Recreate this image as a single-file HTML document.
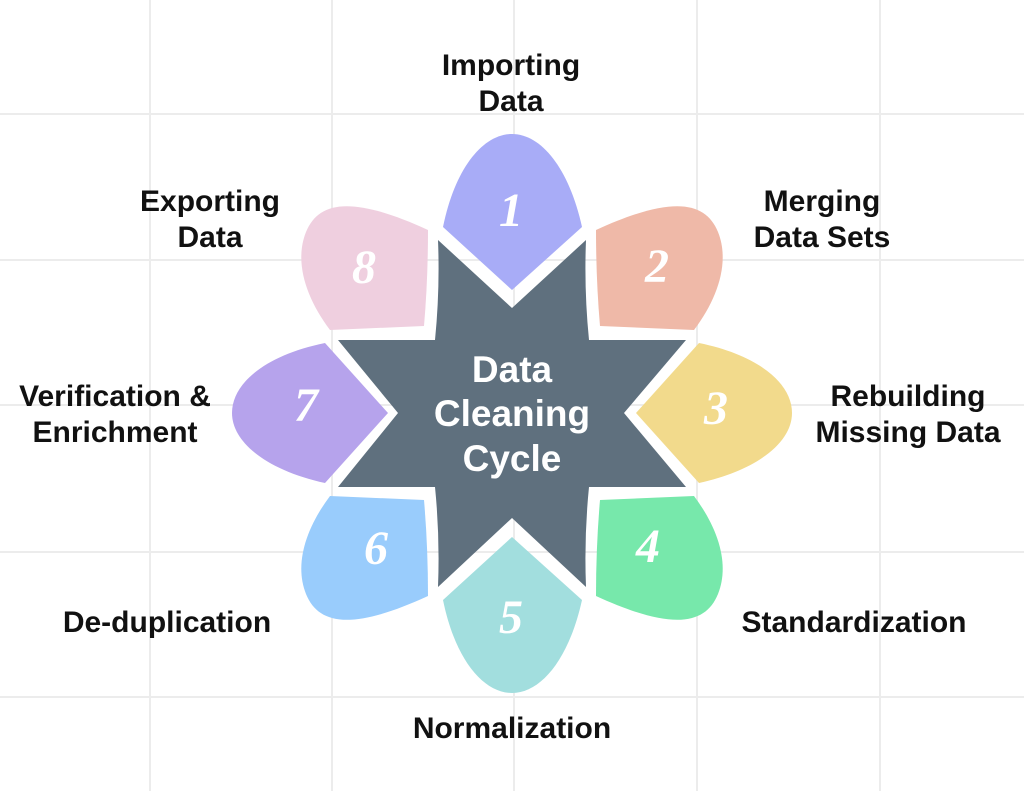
<!DOCTYPE html>
<html><head><meta charset="utf-8"><style>
html,body{margin:0;padding:0;background:#fff}
svg{display:block}
.l{font-family:"Liberation Sans",sans-serif;font-weight:bold;font-size:30px;fill:#111;text-anchor:middle}
.n{font-family:"Liberation Serif",serif;font-style:italic;font-weight:bold;font-size:48px;fill:#fff;text-anchor:middle}
.c{font-family:"Liberation Sans",sans-serif;font-weight:bold;font-size:37px;fill:#fff;text-anchor:middle}
</style></head><body>
<svg width="1024" height="791" viewBox="0 0 1024 791" xmlns="http://www.w3.org/2000/svg">
<g stroke="#ececec" stroke-width="2">
<line x1="150" y1="0" x2="150" y2="791"/><line x1="332" y1="0" x2="332" y2="791"/><line x1="514" y1="0" x2="514" y2="791"/><line x1="697" y1="0" x2="697" y2="791"/><line x1="880" y1="0" x2="880" y2="791"/>
<line x1="0" y1="114" x2="1024" y2="114"/><line x1="0" y1="260" x2="1024" y2="260"/><line x1="0" y1="405" x2="1024" y2="405"/><line x1="0" y1="552" x2="1024" y2="552"/><line x1="0" y1="697" x2="1024" y2="697"/>
</g>
<path fill="#5f707e" d="M438,240 L512,308 L586,240 Q584,290 589,340 L686,340 L624,413 L686,487 L589,487 Q584,537 586,587 L512,518 L438,587 Q440,537 435,487 L338,487 L398,413 L338,340 L435,340 Q440,290 438,240 Z"/>
<path fill="#a8acf7" d="M443,227 C455,168 483,134 512,134 C541,134 569,168 582,227 L512,290 Z"/>
<path fill="#a2dede" d="M443,600 C455,659 483,693 512,693 C541,693 569,659 582,600 L512,537 Z"/>
<path fill="#f2da8c" d="M699,343 C758,355 792,383 792,413 C792,442 758,470 699,483 L636,413 Z"/>
<path fill="#b6a3ec" d="M325,343 C266,355 232,383 232,413 C232,442 266,470 325,483 L388,413 Z"/>
<path fill="#efb9a8" d="M596,230 Q596,280 600,326 L694,330 C718,298 730,262 718,232 C705,200 670,196 596,230 Z"/>
<path fill="#efcfdf" d="M428,230 Q428,280 424,326 L330,330 C306,298 294,262 306,232 C319,200 354,196 428,230 Z"/>
<path fill="#77e8ab" d="M596,596 Q596,546 600,500 L694,496 C718,528 730,564 718,594 C705,626 670,630 596,596 Z"/>
<path fill="#99ccfc" d="M428,596 Q428,546 424,500 L330,496 C306,528 294,564 306,594 C319,626 354,630 428,596 Z"/>
<text class="n" x="511" y="226">1</text>
<text class="n" x="657" y="282">2</text>
<text class="n" x="716" y="424">3</text>
<text class="n" x="648" y="562">4</text>
<text class="n" x="511" y="633">5</text>
<text class="n" x="376" y="564">6</text>
<text class="n" x="306" y="421">7</text>
<text class="n" x="364" y="283">8</text>
<text class="c" x="512" y="382">Data</text>
<text class="c" x="512" y="426">Cleaning</text>
<text class="c" x="512" y="471">Cycle</text>
<text class="l" x="511" y="75">Importing</text><text class="l" x="511" y="111">Data</text>
<text class="l" x="210" y="211">Exporting</text><text class="l" x="210" y="247">Data</text>
<text class="l" x="822" y="211">Merging</text><text class="l" x="822" y="247">Data Sets</text>
<text class="l" x="115" y="406">Verification &amp;</text><text class="l" x="115" y="442">Enrichment</text>
<text class="l" x="908" y="406">Rebuilding</text><text class="l" x="908" y="442">Missing Data</text>
<text class="l" x="167" y="632">De-duplication</text>
<text class="l" x="854" y="632">Standardization</text>
<text class="l" x="512" y="738">Normalization</text>
</svg>
</body></html>
